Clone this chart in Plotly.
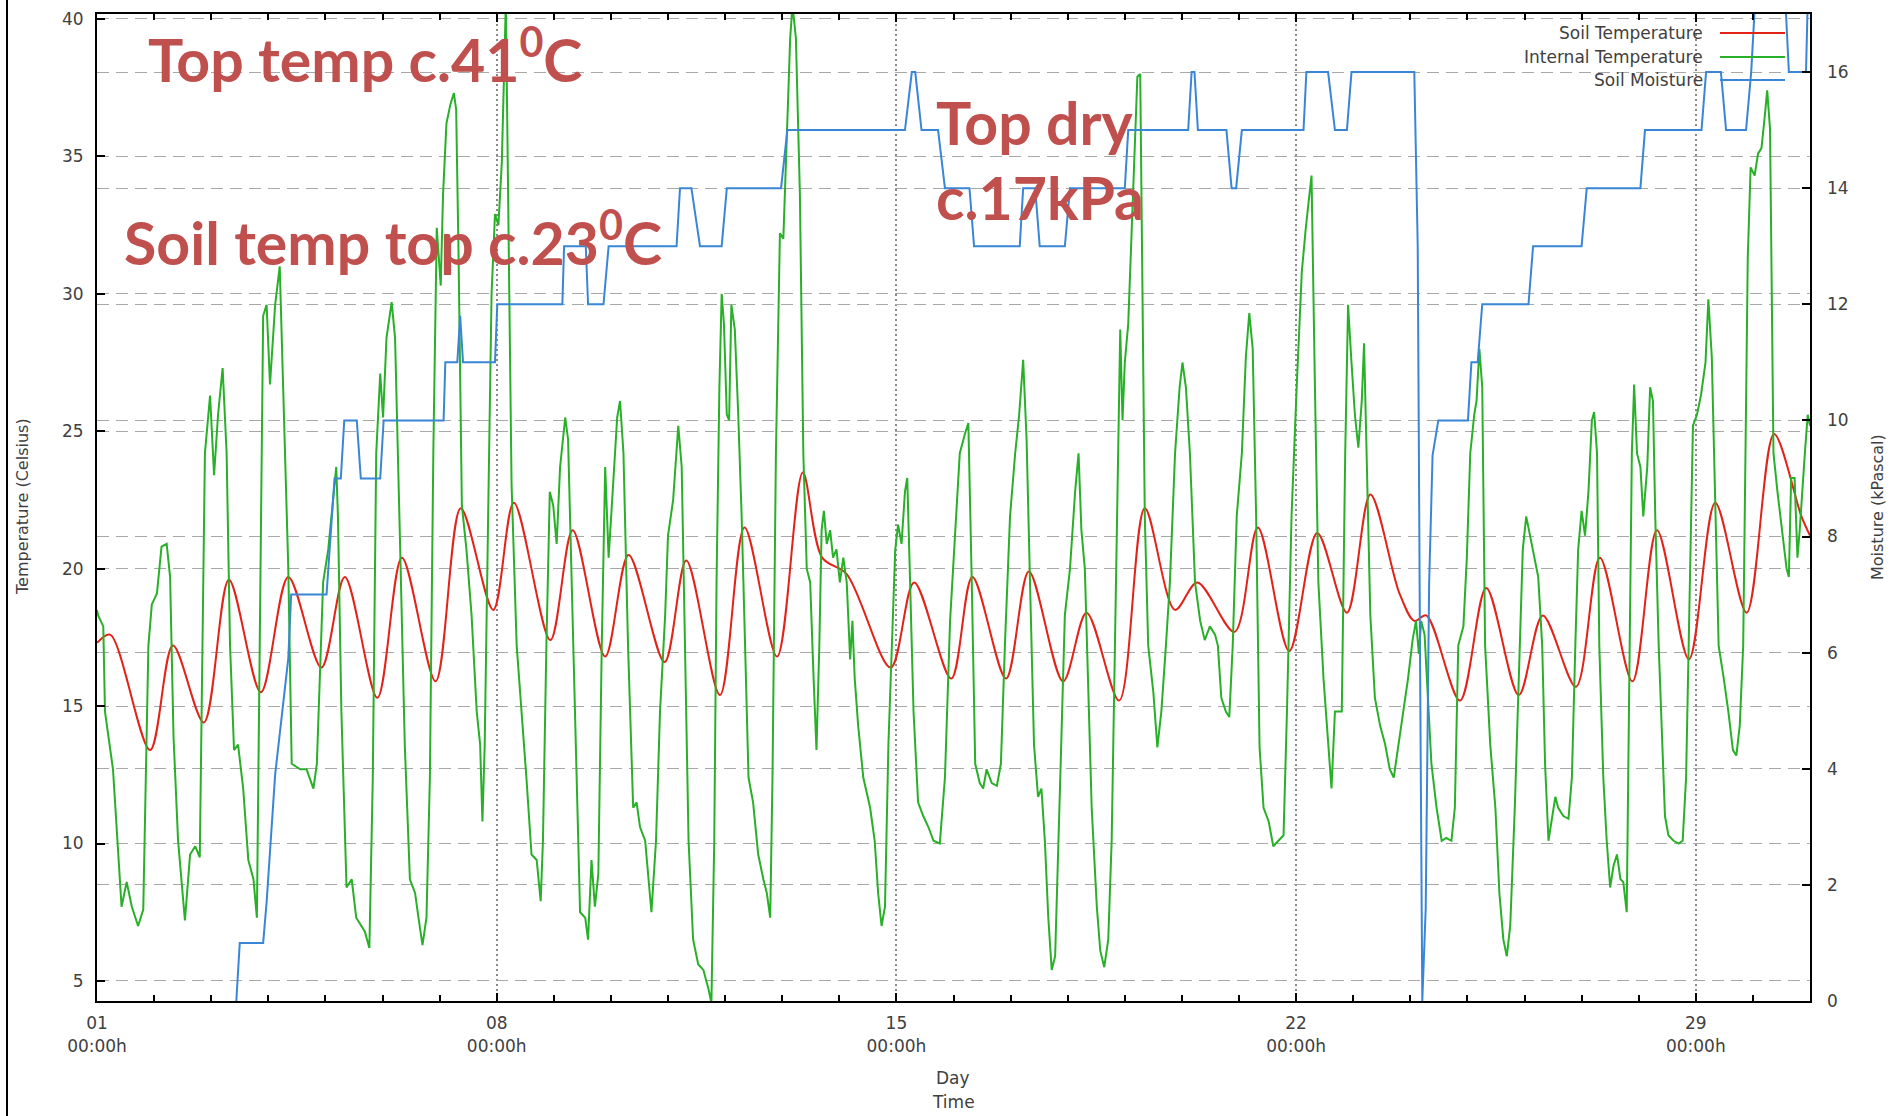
import plotly.graph_objects as go

# ---------------- data ----------------
# x values are day-of-month (1.0 = day 01 00:00h)

soil_day = [1.00, 1.23, 1.93, 2.33, 2.87, 3.31, 3.87, 4.35, 4.93, 5.34,
            5.91, 6.34, 6.93, 7.37, 7.94, 8.30, 8.94, 9.33, 9.90, 10.31,
            10.94, 11.32, 11.91, 12.34, 12.91, 13.36, 13.70, 14.13, 14.90, 15.31,
            15.96, 16.33, 16.92, 17.32, 17.92, 18.33, 18.90, 19.35, 19.88, 20.27,
            20.92, 21.33, 21.88, 22.37, 22.89, 23.30, 23.81, 24.07, 24.28, 24.87,
            25.33, 25.90, 26.32, 26.90, 27.32, 27.89, 28.32, 28.88, 29.34, 29.89,
            30.37, 30.85, 31.00]
soil_temp = [17.3, 17.6, 13.4, 17.2, 14.4, 19.6, 15.5, 19.7, 16.4, 19.7,
             15.3, 20.4, 15.9, 22.2, 18.5, 22.4, 17.4, 21.4, 16.8, 20.5,
             16.6, 20.3, 15.4, 21.5, 16.8, 23.5, 20.4, 19.8, 16.4, 19.5,
             16.0, 19.7, 16.0, 19.9, 15.9, 18.4, 15.2, 22.2, 18.5, 19.5,
             17.7, 21.5, 17.0, 21.3, 18.4, 22.7, 19.1, 18.1, 18.3, 15.2,
             19.3, 15.4, 18.3, 15.7, 20.4, 15.9, 21.4, 16.7, 22.4, 18.4,
             24.9, 21.9, 21.2]

internal_day = [
    1.00, 1.02, 1.11, 1.14, 1.28, 1.43, 1.52, 1.61, 1.72, 1.81,
    1.90, 1.96, 2.05, 2.13, 2.22, 2.28, 2.34, 2.42, 2.54, 2.63,
    2.72, 2.80, 2.89, 2.98, 3.05, 3.12, 3.20, 3.27, 3.33, 3.40,
    3.47, 3.56, 3.65, 3.74, 3.80, 3.85, 3.91, 3.97, 4.03, 4.12,
    4.20, 4.26, 4.35, 4.41, 4.56, 4.67, 4.79, 4.85, 4.96, 5.05,
    5.14, 5.19, 5.22, 5.28, 5.37, 5.46, 5.54, 5.69, 5.77, 5.83,
    5.89, 5.96, 6.01, 6.07, 6.16, 6.22, 6.31, 6.39, 6.48, 6.57,
    6.63, 6.70, 6.77, 6.83, 6.89, 6.95, 7.02, 7.06, 7.12, 7.19,
    7.25, 7.29, 7.33, 7.39, 7.47, 7.56, 7.65, 7.71, 7.75, 7.79,
    7.85, 7.91, 7.97, 8.03, 8.09, 8.13, 8.16, 8.20, 8.26, 8.35,
    8.44, 8.52, 8.61, 8.70, 8.77, 8.81, 8.87, 8.93, 8.99, 9.05,
    9.11, 9.20, 9.25, 9.31, 9.40, 9.46, 9.55, 9.60, 9.66, 9.72,
    9.78, 9.84, 9.90, 9.96, 10.04, 10.11, 10.16, 10.22, 10.30, 10.39,
    10.45, 10.51, 10.60, 10.65, 10.71, 10.79, 10.86, 10.95, 11.00, 11.09,
    11.18, 11.24, 11.30, 11.36, 11.44, 11.53, 11.62, 11.71, 11.76, 11.81,
    11.85, 11.90, 11.94, 11.98, 12.03, 12.07, 12.11, 12.17, 12.23, 12.29,
    12.35, 12.41, 12.49, 12.58, 12.67, 12.73, 12.79, 12.83, 12.89, 12.96,
    13.02, 13.08, 13.14, 13.18, 13.24, 13.31, 13.37, 13.43, 13.49, 13.55,
    13.60, 13.65, 13.69, 13.73, 13.78, 13.84, 13.89, 13.95, 14.01, 14.07,
    14.13, 14.19, 14.23, 14.27, 14.33, 14.42, 14.54, 14.62, 14.68, 14.74,
    14.80, 14.86, 14.92, 14.98, 15.03, 15.09, 15.15, 15.19, 15.24, 15.30,
    15.38, 15.47, 15.56, 15.65, 15.76, 15.85, 15.94, 16.03, 16.11, 16.20,
    16.26, 16.32, 16.38, 16.46, 16.52, 16.58, 16.67, 16.76, 16.83, 16.90,
    16.99, 17.08, 17.15, 17.22, 17.28, 17.34, 17.41, 17.48, 17.54, 17.60,
    17.66, 17.72, 17.78, 17.87, 17.95, 18.04, 18.13, 18.19, 18.24, 18.30,
    18.36, 18.42, 18.51, 18.57, 18.64, 18.71, 18.77, 18.83, 18.89, 18.92,
    18.96, 19.00, 19.06, 19.12, 19.18, 19.22, 19.27, 19.31, 19.35, 19.41,
    19.50, 19.57, 19.64, 19.72, 19.79, 19.88, 19.96, 20.01, 20.07, 20.14,
    20.23, 20.32, 20.40, 20.49, 20.58, 20.63, 20.69, 20.77, 20.83, 20.89,
    20.96, 21.05, 21.12, 21.18, 21.24, 21.30, 21.36, 21.43, 21.52, 21.60,
    21.69, 21.78, 21.84, 21.92, 22.01, 22.10, 22.17, 22.23, 22.27, 22.33,
    22.39, 22.48, 22.56, 22.62, 22.68, 22.74, 22.80, 22.86, 22.91, 22.97,
    23.03, 23.09, 23.15, 23.19, 23.24, 23.30, 23.38, 23.47, 23.56, 23.64,
    23.71, 23.79, 23.87, 23.96, 24.04, 24.10, 24.15, 24.19, 24.25, 24.31,
    24.37, 24.46, 24.55, 24.63, 24.72, 24.78, 24.84, 24.93, 24.99, 25.05,
    25.12, 25.16, 25.21, 25.26, 25.31, 25.40, 25.49, 25.56, 25.63, 25.69,
    25.75, 25.83, 25.91, 25.97, 26.03, 26.10, 26.18, 26.24, 26.31, 26.36,
    26.42, 26.48, 26.54, 26.59, 26.68, 26.77, 26.83, 26.89, 26.94, 27.00,
    27.06, 27.12, 27.18, 27.22, 27.27, 27.31, 27.38, 27.44, 27.50, 27.56,
    27.62, 27.68, 27.73, 27.79, 27.84, 27.88, 27.92, 27.97, 28.03, 28.08,
    28.15, 28.20, 28.25, 28.29, 28.35, 28.41, 28.46, 28.52, 28.61, 28.70,
    28.77, 28.83, 28.89, 28.95, 29.02, 29.09, 29.17, 29.22, 29.28, 29.34,
    29.40, 29.49, 29.57, 29.65, 29.71, 29.77, 29.83, 29.87, 29.91, 29.96,
    30.03, 30.09, 30.15, 30.21, 30.25, 30.30, 30.36, 30.43, 30.52, 30.59,
    30.63, 30.67, 30.73, 30.78, 30.82, 30.86, 30.91, 30.96, 31.00]
internal_temp = [
    18.5, 18.3, 17.9, 14.8, 12.7, 7.7, 8.6, 7.7, 7.0, 7.6,
    17.2, 18.7, 19.1, 20.8, 20.9, 19.7, 13.9, 10.1, 7.2, 9.6,
    9.9, 9.5, 24.2, 26.3, 23.4, 25.6, 27.3, 24.2, 17.2, 13.4,
    13.6, 12.0, 9.4, 8.7, 7.3, 17.2, 29.2, 29.6, 26.7, 29.6,
    31.0, 26.6, 20.0, 12.9, 12.7, 12.7, 12.0, 12.9, 19.5, 20.7,
    22.8, 23.7, 21.9, 14.8, 8.4, 8.7, 7.3, 6.8, 6.2, 12.4,
    24.2, 27.1, 25.5, 28.4, 29.7, 28.4, 20.7, 13.6, 8.7, 8.2,
    7.3, 6.3, 7.3, 12.4, 24.2, 32.4, 30.3, 33.6, 36.2, 36.9,
    37.3, 36.7, 31.7, 22.3, 20.7, 18.3, 14.8, 13.6, 10.8, 13.6,
    21.9, 30.0, 32.9, 32.5, 34.8, 38.8, 40.6, 33.6, 23.1, 17.2,
    14.8, 12.4, 9.6, 9.4, 7.9, 10.1, 17.2, 22.8, 22.3, 20.9,
    23.7, 25.5, 24.7, 19.5, 12.4, 7.5, 7.3, 6.5, 9.4, 7.7,
    8.9, 17.2, 23.7, 20.4, 23.1, 25.5, 26.1, 24.2, 17.2, 11.3,
    11.5, 10.6, 10.1, 8.9, 7.5, 10.1, 14.8, 18.3, 21.2, 22.5,
    25.2, 23.7, 17.2, 10.1, 6.5, 5.6, 5.4, 4.7, 4.2, 10.1,
    19.5, 26.6, 30.0, 28.9, 25.6, 25.4, 29.6, 28.7, 25.6, 21.9,
    17.2, 12.4, 11.5, 9.6, 8.7, 8.2, 7.3, 12.4, 24.2, 32.2,
    32.0, 36.0, 39.3, 40.5, 39.3, 33.6, 24.2, 20.0, 19.5, 16.0,
    13.4, 17.2, 21.4, 22.1, 20.9, 21.4, 20.4, 20.7, 19.5, 20.4,
    19.5, 16.7, 18.1, 16.0, 14.3, 12.4, 11.3, 10.1, 8.2, 7.0,
    7.7, 13.6, 17.2, 20.7, 21.6, 20.9, 22.8, 23.3, 19.5, 14.8,
    11.5, 11.0, 10.6, 10.1, 10.0, 12.4, 18.1, 21.4, 24.2, 24.9,
    25.3, 19.5, 12.9, 12.2, 12.0, 12.7, 12.2, 12.1, 12.9, 17.2,
    21.9, 24.2, 25.6, 27.6, 24.7, 19.5, 13.6, 11.7, 12.0, 10.1,
    7.3, 5.4, 5.9, 12.4, 18.3, 20.0, 22.8, 24.2, 21.4, 20.0,
    15.3, 11.3, 7.7, 6.1, 5.5, 6.5, 10.1, 17.2, 24.2, 28.7,
    25.4, 27.5, 28.9, 32.4, 36.0, 37.9, 38.0, 28.9, 21.9, 17.2,
    15.5, 13.5, 14.8, 17.2, 19.5, 24.2, 26.6, 27.5, 26.6, 24.2,
    19.5, 18.1, 17.4, 17.9, 17.6, 17.2, 15.3, 14.8, 14.6, 17.2,
    21.9, 24.2, 27.7, 29.3, 28.0, 21.9, 13.5, 11.3, 10.8, 9.9,
    10.1, 10.3, 14.8, 21.9, 26.6, 30.8, 32.4, 33.6, 34.3, 26.6,
    19.5, 16.0, 13.6, 12.0, 14.8, 14.8, 14.8, 24.2, 29.6, 27.5,
    25.6, 24.4, 26.1, 28.2, 23.1, 18.3, 15.3, 14.3, 13.6, 12.7,
    12.4, 13.6, 14.8, 16.0, 17.4, 18.1, 16.9, 18.1, 17.6, 15.3,
    12.9, 11.3, 10.1, 10.2, 10.1, 11.3, 17.2, 17.9, 20.4, 24.2,
    25.6, 26.1, 28.0, 26.6, 17.2, 13.6, 11.3, 8.2, 6.5, 5.9,
    7.0, 11.3, 17.2, 20.7, 21.9, 21.2, 20.3, 19.7, 17.2, 12.9,
    10.1, 11.0, 11.7, 11.3, 11.0, 10.9, 12.4, 17.2, 20.7, 22.1,
    21.2, 22.8, 25.4, 25.7, 24.2, 17.2, 12.4, 10.1, 8.4, 9.2,
    9.6, 8.7, 8.6, 7.5, 17.2, 24.2, 26.7, 24.2, 23.7, 21.9,
    23.7, 26.6, 26.1, 21.9, 17.2, 13.6, 11.0, 10.3, 10.1, 10.0,
    10.1, 12.4, 19.5, 25.2, 25.6, 26.3, 27.5, 29.8, 27.7, 21.9,
    17.2, 16.0, 14.8, 13.4, 13.2, 14.3, 17.2, 24.2, 31.3, 34.6,
    34.3, 35.1, 35.3, 36.5, 37.4, 36.0, 24.2, 22.8, 21.2, 20.0,
    19.7, 23.3, 23.3, 20.4, 21.4, 22.8, 24.2, 25.6, 25.2]

moist_day = [3.44, 3.50, 3.91, 3.97, 4.12, 4.35, 4.40, 5.02, 5.16, 5.27,
             5.33, 5.55, 5.62, 5.96, 6.02, 7.07, 7.10, 7.31, 7.36, 7.41,
             7.97, 8.01, 9.15, 9.18, 9.56, 9.60, 9.87, 9.96, 11.15, 11.21,
             11.41, 11.56, 11.94, 12.03, 12.98, 13.09, 15.15, 15.27, 15.33, 15.44,
             15.73, 15.85, 16.28, 16.36, 17.16, 17.22, 17.43, 17.51, 17.95, 18.04,
             19.00, 19.06, 20.11, 20.17, 20.22, 20.28, 20.78, 20.87, 20.95, 21.05,
             22.13, 22.18, 22.56, 22.68, 22.89, 22.97, 24.07, 24.13, 24.17, 24.21,
             24.27, 24.33, 24.39, 24.49, 25.01, 25.07, 25.18, 25.26, 26.07, 26.15,
             27.00, 27.09, 28.03, 28.11, 29.10, 29.18, 29.44, 29.53, 29.88, 29.97,
             30.06, 30.55, 30.63, 30.93, 30.97, 31.00]
moist_kpa = [0, 1, 1, 1.7, 3.9, 5.9, 7, 7, 9, 9,
             10, 10, 9, 9, 10, 10, 11, 11, 11.8, 11,
             11, 12, 12, 13, 13, 12, 12, 13, 13, 14,
             14, 13, 13, 14, 14, 15, 15, 16, 16, 15,
             15, 14, 14, 13, 13, 14, 14, 13, 13, 14,
             14, 15, 15, 16, 16, 15, 15, 14, 14, 15,
             15, 16, 16, 15, 15, 16, 16, 13, 6, 0,
             1.6, 7.2, 9.4, 10, 10, 11, 11, 12, 12, 13,
             13, 14, 14, 15, 15, 16, 16, 15, 15, 16,
             17.6, 17.6, 16, 16, 17.6, 17.6]

x_tick_days = [1, 8, 15, 22, 29]
x_tick_text = ["01<br>00:00h", "08<br>00:00h", "15<br>00:00h", "22<br>00:00h", "29<br>00:00h"]
temp_ticks = [5, 10, 15, 20, 25, 30, 35, 40]
moist_ticks = [0, 2, 4, 6, 8, 10, 12, 14, 16]

# ---------------- figure ----------------
W, H = 1899, 1116
L, R, T, B = 97, 1810, 14, 1001

def px(x):
    return (x - L) / (R - L)

def py(y):
    return (B - y) / (B - T)

RED = "#E2231A"
GREEN = "#28B028"
BLUE = "#3A86D6"
NOTE = "#C0504D"
TXT = "#404040"
GRID = "#A8A8A8"

fig = go.Figure()
fig.add_trace(go.Scatter(x=soil_day, y=soil_temp, mode="lines", name="Soil Temperature",
                         line=dict(color=RED, width=2, shape="spline", smoothing=0.9)))
fig.add_trace(go.Scatter(x=internal_day, y=internal_temp, mode="lines", name="Internal Temperature",
                         line=dict(color=GREEN, width=2)))
fig.add_trace(go.Scatter(x=moist_day, y=moist_kpa, mode="lines", name="Soil Moisture",
                         yaxis="y2", line=dict(color=BLUE, width=2)))

fig.update_layout(
    width=W, height=H,
    margin=dict(l=L, r=W - R, t=T, b=H - B, pad=0, autoexpand=False),
    paper_bgcolor="white", plot_bgcolor="white",
    showlegend=False,
    font=dict(family="DejaVu Sans", size=17, color=TXT),
    xaxis=dict(
        range=[1, 31], tickmode="array", tickvals=x_tick_days, ticktext=x_tick_text,
        ticks="inside", ticklen=8, tickwidth=1.5, tickcolor="black",
        showline=True, linecolor="black", linewidth=2, mirror="ticks",
        showgrid=True, gridcolor="#8A8A8A", gridwidth=1.5, griddash="2px,3px",
        zeroline=False, ticklabelstandoff=6, automargin=False,
        minor=dict(tick0=1, dtick=1, ticks="inside", ticklen=6, tickwidth=1.5,
                   tickcolor="black", showgrid=False),
    ),
    yaxis=dict(
        range=[4.27, 40.18], tickmode="array", tickvals=temp_ticks,
        ticks="inside", ticklen=8, tickwidth=1.5, tickcolor="black",
        showline=True, linecolor="black", linewidth=2, mirror=True,
        showgrid=True, gridcolor=GRID, gridwidth=1, griddash="12px,7px",
        zeroline=False, ticklabelstandoff=8, automargin=False,
    ),
    yaxis2=dict(
        range=[0, 17], overlaying="y", side="right", tickmode="array", tickvals=moist_ticks,
        ticks="inside", ticklen=8, tickwidth=1.5, tickcolor="black",
        showline=False, showgrid=True, gridcolor=GRID, gridwidth=1, griddash="12px,7px",
        zeroline=False, ticklabelstandoff=16, automargin=False,
    ),
)

def note(text, x, y, **kw):
    fig.add_annotation(text=text, xref="paper", yref="paper", x=px(x), y=py(y),
                       showarrow=False, **kw)

# axis titles
note("Temperature (Celsius)", 22, 507, textangle=-90, xanchor="center", yanchor="middle",
     font=dict(size=16, color=TXT))
note("Moisture (kPascal)", 1877, 507, textangle=-90, xanchor="center", yanchor="middle",
     font=dict(size=16, color=TXT))
note("Day", 953, 1078, xanchor="center", yanchor="middle", font=dict(size=17, color=TXT))
note("Time", 953, 1102, xanchor="center", yanchor="middle", font=dict(size=17, color=TXT))

# gnuplot-style key (text right-aligned, sample on the right)
key = [("Soil Temperature", RED, 33), ("Internal Temperature", GREEN, 57), ("Soil Moisture", BLUE, 80)]
for label, col, yy in key:
    note(label, 1705, yy, xanchor="right", yanchor="middle", font=dict(size=17, color=TXT))
    fig.add_shape(type="line", xref="paper", yref="paper", x0=px(1720), x1=px(1785),
                  y0=py(yy), y1=py(yy), line=dict(color=col, width=2))

# red callouts
big = dict(family="Lato", size=59, color=NOTE)
note("<b>Top temp c.41<sup>0</sup>C</b>", 146, 56, xanchor="left", yanchor="middle", font=big)
note("<b>Soil temp top c.23<sup>0</sup>C</b>", 122, 238, xanchor="left", yanchor="middle", font=big)
note("<b>Top dry</b>", 934, 122, xanchor="left", yanchor="middle", font=big)
note("<b>c.17kPa</b>", 934, 197, xanchor="left", yanchor="middle", font=big)

# slide frame line at the far left
fig.add_shape(type="line", xref="paper", yref="paper", x0=px(7), x1=px(7),
              y0=py(H), y1=py(0), line=dict(color="black", width=2))

fig.write_html("out.html",
               config={"displayModeBar": False},
               post_script="document.body.style.margin='0px';document.body.style.overflow='hidden';")
